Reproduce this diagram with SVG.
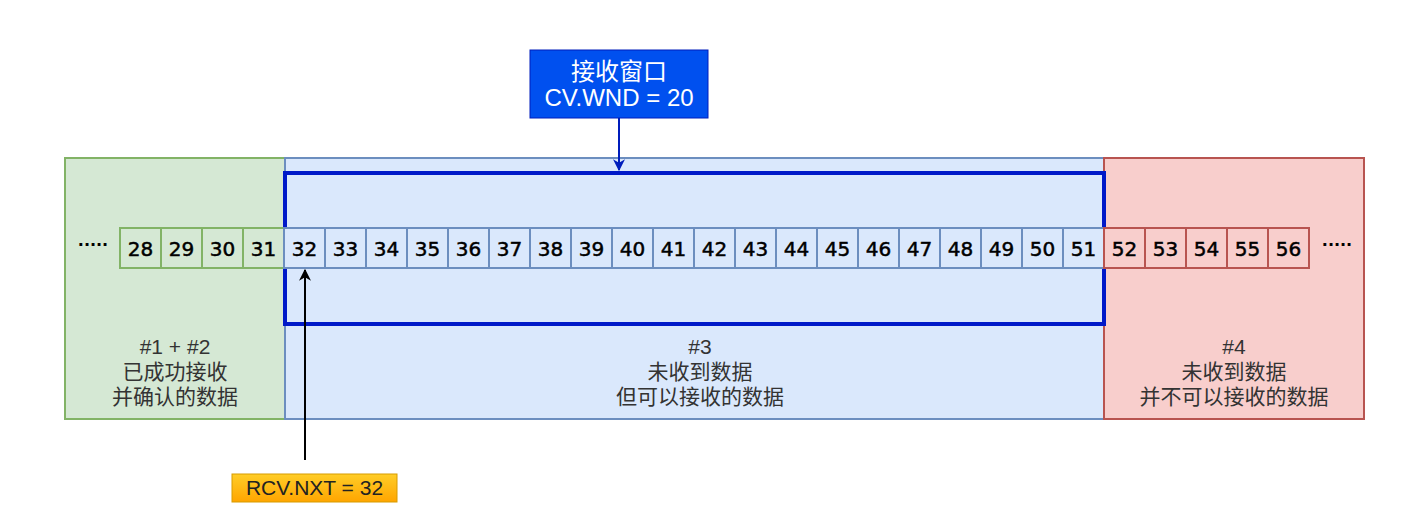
<svg xmlns="http://www.w3.org/2000/svg" width="1411" height="524" viewBox="0 0 1411 524">
<defs>
<style>
.g{fill:#d5e8d4;stroke:#82b366;stroke-width:2}
.b{fill:#dae8fc;stroke:#6c8ebf;stroke-width:2}
.r{fill:#f8cecc;stroke:#b85450;stroke-width:2}
.n{font-family:"DejaVu Sans",sans-serif;font-size:20px;fill:#000;stroke:#000;stroke-width:0.5;text-anchor:middle}
.lbl{font-family:"Liberation Sans","Noto Sans CJK SC",sans-serif;font-size:21px;fill:#333;text-anchor:middle}
.dots{font-family:"DejaVu Sans",sans-serif;font-weight:bold;font-size:16px;fill:#000;text-anchor:middle}
</style>
<linearGradient id="og" x1="0" y1="0" x2="0" y2="1"><stop offset="0" stop-color="#ffcd28"/><stop offset="1" stop-color="#ffa500"/></linearGradient>
<marker id="ab" viewBox="0 0 10 10" refX="9" refY="5" markerWidth="12" markerHeight="12" orient="auto" markerUnits="userSpaceOnUse"><path d="M0,0 L10,5 L0,10 L3,5 z" fill="#001DBC"/></marker>
<marker id="ak" viewBox="0 0 10 10" refX="9" refY="5" markerWidth="12" markerHeight="12" orient="auto" markerUnits="userSpaceOnUse"><path d="M0,0 L10,5 L0,10 L3,5 z" fill="#000"/></marker>
</defs>
<rect width="1411" height="524" fill="#fff"/>
<g id="region-green"><rect class="g" x="65" y="158" width="220" height="261"/>
<text class="lbl" x="175" y="354">#1 + #2</text><text class="lbl" x="175" y="379">已成功接收</text><text class="lbl" x="175" y="404">并确认的数据</text></g>
<g id="region-blue"><rect class="b" x="285" y="158" width="819" height="261"/>
<text class="lbl" x="700" y="354">#3</text><text class="lbl" x="700" y="379">未收到数据</text><text class="lbl" x="700" y="404">但可以接收的数据</text></g>
<g id="region-red"><rect class="r" x="1104" y="158" width="260" height="261"/>
<text class="lbl" x="1234" y="354">#4</text><text class="lbl" x="1234" y="379">未收到数据</text><text class="lbl" x="1234" y="404">并不可以接收的数据</text></g>
<g id="window"><rect x="285" y="173" width="819" height="151" fill="none" stroke="#0019c8" stroke-width="4"/></g>
<g id="cells">
<text class="dots" x="93" y="250">·····</text>
<rect class="g" x="120" y="228" width="41" height="40"/><text class="n" x="140.5" y="256">28</text>
<rect class="g" x="161" y="228" width="41" height="40"/><text class="n" x="181.5" y="256">29</text>
<rect class="g" x="202" y="228" width="41" height="40"/><text class="n" x="222.5" y="256">30</text>
<rect class="g" x="243" y="228" width="41" height="40"/><text class="n" x="263.5" y="256">31</text>
<rect class="b" x="284" y="228" width="41" height="40"/><text class="n" x="304.5" y="256">32</text>
<rect class="b" x="325" y="228" width="41" height="40"/><text class="n" x="345.5" y="256">33</text>
<rect class="b" x="366" y="228" width="41" height="40"/><text class="n" x="386.5" y="256">34</text>
<rect class="b" x="407" y="228" width="41" height="40"/><text class="n" x="427.5" y="256">35</text>
<rect class="b" x="448" y="228" width="41" height="40"/><text class="n" x="468.5" y="256">36</text>
<rect class="b" x="489" y="228" width="41" height="40"/><text class="n" x="509.5" y="256">37</text>
<rect class="b" x="530" y="228" width="41" height="40"/><text class="n" x="550.5" y="256">38</text>
<rect class="b" x="571" y="228" width="41" height="40"/><text class="n" x="591.5" y="256">39</text>
<rect class="b" x="612" y="228" width="41" height="40"/><text class="n" x="632.5" y="256">40</text>
<rect class="b" x="653" y="228" width="41" height="40"/><text class="n" x="673.5" y="256">41</text>
<rect class="b" x="694" y="228" width="41" height="40"/><text class="n" x="714.5" y="256">42</text>
<rect class="b" x="735" y="228" width="41" height="40"/><text class="n" x="755.5" y="256">43</text>
<rect class="b" x="776" y="228" width="41" height="40"/><text class="n" x="796.5" y="256">44</text>
<rect class="b" x="817" y="228" width="41" height="40"/><text class="n" x="837.5" y="256">45</text>
<rect class="b" x="858" y="228" width="41" height="40"/><text class="n" x="878.5" y="256">46</text>
<rect class="b" x="899" y="228" width="41" height="40"/><text class="n" x="919.5" y="256">47</text>
<rect class="b" x="940" y="228" width="41" height="40"/><text class="n" x="960.5" y="256">48</text>
<rect class="b" x="981" y="228" width="41" height="40"/><text class="n" x="1001.5" y="256">49</text>
<rect class="b" x="1022" y="228" width="41" height="40"/><text class="n" x="1042.5" y="256">50</text>
<rect class="b" x="1063" y="228" width="41" height="40"/><text class="n" x="1083.5" y="256">51</text>
<rect class="r" x="1104" y="228" width="41" height="40"/><text class="n" x="1124.5" y="256">52</text>
<rect class="r" x="1145" y="228" width="41" height="40"/><text class="n" x="1165.5" y="256">53</text>
<rect class="r" x="1186" y="228" width="41" height="40"/><text class="n" x="1206.5" y="256">54</text>
<rect class="r" x="1227" y="228" width="41" height="40"/><text class="n" x="1247.5" y="256">55</text>
<rect class="r" x="1268" y="228" width="41" height="40"/><text class="n" x="1288.5" y="256">56</text>
<text class="dots" x="1337" y="250">·····</text>
</g>
<g id="rcv-wnd"><rect x="530" y="50" width="178" height="68" fill="#0050ef" stroke="#001dbc" stroke-width="1"/>
<text x="619" y="80" font-family="Liberation Sans,'Noto Sans CJK SC',sans-serif" font-size="24" fill="#fff" text-anchor="middle">接收窗口</text>
<text x="619" y="106" font-family="Liberation Sans,'Noto Sans CJK SC',sans-serif" font-size="24" fill="#fff" text-anchor="middle">CV.WND = 20</text></g>
<g id="rcv-nxt"><rect x="232" y="474" width="165" height="28" fill="url(#og)" stroke="#d79b00" stroke-width="1"/>
<text x="314.5" y="495" font-family="Liberation Sans,sans-serif" font-size="21" fill="#222" text-anchor="middle">RCV.NXT = 32</text></g>
<g id="connectors">
<line x1="619" y1="118" x2="619" y2="170" stroke="#001dbc" stroke-width="2" marker-end="url(#ab)"/>
<line x1="305" y1="460" x2="305" y2="270" stroke="#000" stroke-width="2" marker-end="url(#ak)"/>
</g>
</svg>
